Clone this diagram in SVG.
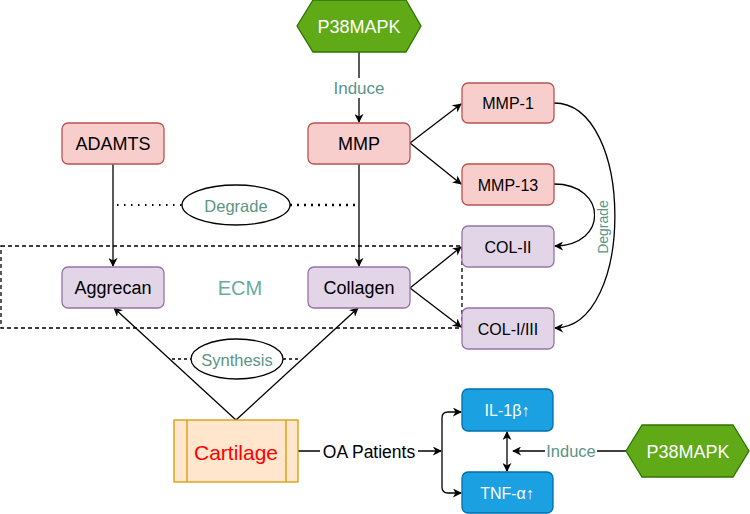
<svg xmlns="http://www.w3.org/2000/svg" width="750" height="514" viewBox="0 0 750 514">
<defs>
<marker id="arr" viewBox="0 0 10 10" refX="9" refY="5" markerWidth="9" markerHeight="9" orient="auto-start-reverse" markerUnits="userSpaceOnUse">
<path d="M0,0 L10,5 L0,10 L3,5 z" fill="#000"/>
</marker>
</defs>
<style>
text{font-family:"Liberation Sans",Arial,sans-serif;text-anchor:middle;dominant-baseline:central}
.red rect{fill:#f8cecc;stroke:#b85450;stroke-width:1.3}
.pur rect{fill:#e1d5e7;stroke:#9673a6;stroke-width:1.3}
.blu rect{fill:#1ba1e2;stroke:#006eaf;stroke-width:1.3}
.hex polygon{fill:#60a917;stroke:#2d7600;stroke-width:1.3}
.hex text{fill:#fff;font-size:18px}
.blu text{fill:#fff;font-size:16px}
.big{font-size:18px;fill:#000}
.sm{font-size:16px;fill:#000}
.lbl{font-size:16.5px;fill:#5b9488}
.e{fill:none;stroke:#000;stroke-width:1.3}
.a{marker-end:url(#arr)}
</style>
<g id="ecm-box">
<rect x="1" y="246" width="461" height="82" fill="none" stroke="#000" stroke-width="1.3" stroke-dasharray="4 3"/>
<text x="240" y="288" style="font-size:20px;fill:#67ab9f">ECM</text>
</g>
<g id="connectors">
<path class="e a" d="M359,52 V122"/>
<path class="e a" d="M113,164 V266"/>
<path class="e a" d="M359,164 V266"/>
<path class="e a" d="M410,143 L461,104"/>
<path class="e a" d="M410,143 L461,184"/>
<path class="e a" d="M410,288 L461,247"/>
<path class="e a" d="M410,288 L461,327"/>
<path class="e a" d="M554,103 C635,103 635,328 555,328"/>
<path class="e a" d="M554,184 C608,184 608,246 555,246"/>
<path class="e a" d="M236,420 L114,308"/>
<path class="e a" d="M236,420 L358,308"/>
<path class="e a" d="M298,451 H441"/>
<path class="e a" d="M442,451 V418 Q442,412 448,412 H461"/>
<path class="e a" d="M442,451 V487 Q442,493 448,493 H461"/>
<path class="e a" d="M507,432 V471" style="marker-start:url(#arr)"/>
<path class="e a" d="M626,451 H513"/>
<path d="M117,205 H182" stroke="#000" stroke-width="2" stroke-dasharray="1.5 5.5" fill="none"/>
<path d="M290,205 H356" stroke="#000" stroke-width="2.5" stroke-dasharray="2 5" fill="none"/>
<path d="M172,359 H191 M283,359 H300" stroke="#000" stroke-width="1.3" stroke-dasharray="3 3" fill="none"/>
<rect x="331" y="78" width="56" height="20" fill="#fff"/>
<text x="359" y="88" style="font-size:17px;fill:#5b9488">Induce</text>
<rect x="595" y="199" width="16" height="56" fill="#fff"/>
<text x="603" y="227" transform="rotate(-90 603 227)" style="font-size:14px;fill:#5b9488">Degrade</text>
<rect x="320" y="442" width="98" height="20" fill="#fff"/>
<text x="369" y="452" style="font-size:17.5px;fill:#000">OA Patients</text>
<rect x="545" y="441" width="52" height="20" fill="#fff"/>
<text class="lbl" x="571" y="451">Induce</text>
</g>
<g id="degrade-label">
<ellipse cx="236" cy="205" rx="54" ry="20" fill="#fff" stroke="#000" stroke-width="1.3"/>
<text class="lbl" x="236" y="206">Degrade</text>
</g>
<g id="synthesis-label">
<ellipse cx="237" cy="359" rx="46" ry="20" fill="#fff" stroke="#000" stroke-width="1.3"/>
<text class="lbl" x="237" y="360">Synthesis</text>
</g>
<g id="p38-top" class="hex">
<polygon points="297,26 313,0 406,0 421,26 406,52 313,52"/>
<text x="359" y="27">P38MAPK</text>
</g>
<g id="p38-bottom" class="hex">
<polygon points="626,451 642,425 733,425 749,451 733,477 642,477"/>
<text x="688" y="452">P38MAPK</text>
</g>
<g id="adamts" class="red"><rect x="62" y="123" width="102" height="41" rx="6"/><text class="big" x="113" y="144">ADAMTS</text></g>
<g id="mmp" class="red"><rect x="308" y="123" width="102" height="41" rx="6"/><text class="big" x="359" y="144">MMP</text></g>
<g id="mmp1" class="red"><rect x="462" y="83" width="92" height="40" rx="6"/><text class="sm" x="508" y="103">MMP-1</text></g>
<g id="mmp13" class="red"><rect x="462" y="164" width="92" height="41" rx="6"/><text class="sm" x="508" y="185">MMP-13</text></g>
<g id="col2" class="pur"><rect x="462" y="226" width="92" height="41" rx="6"/><text class="sm" x="508" y="247">COL-II</text></g>
<g id="col13" class="pur"><rect x="462" y="308" width="92" height="41" rx="6"/><text class="sm" x="508" y="329">COL-I/III</text></g>
<g id="aggrecan" class="pur"><rect x="62" y="267" width="102" height="41" rx="6"/><text class="big" x="113" y="288">Aggrecan</text></g>
<g id="collagen" class="pur"><rect x="308" y="267" width="102" height="41" rx="6"/><text class="big" x="359" y="288">Collagen</text></g>
<g id="cartilage">
<rect x="174" y="420" width="124" height="62" fill="#ffe6cc" stroke="#d79b00" stroke-width="1.3"/>
<path d="M187,420 V482 M286,420 V482" stroke="#d79b00" stroke-width="1.3"/>
<text x="236" y="452" style="font-size:21px;fill:#ff0000">Cartilage</text>
</g>
<g id="il1b" class="blu"><rect x="462" y="389" width="91" height="42" rx="6"/><text x="507" y="410">IL-1β↑</text></g>
<g id="tnfa" class="blu"><rect x="462" y="472" width="91" height="41" rx="6"/><text x="507" y="493">TNF-α↑</text></g>
</svg>
